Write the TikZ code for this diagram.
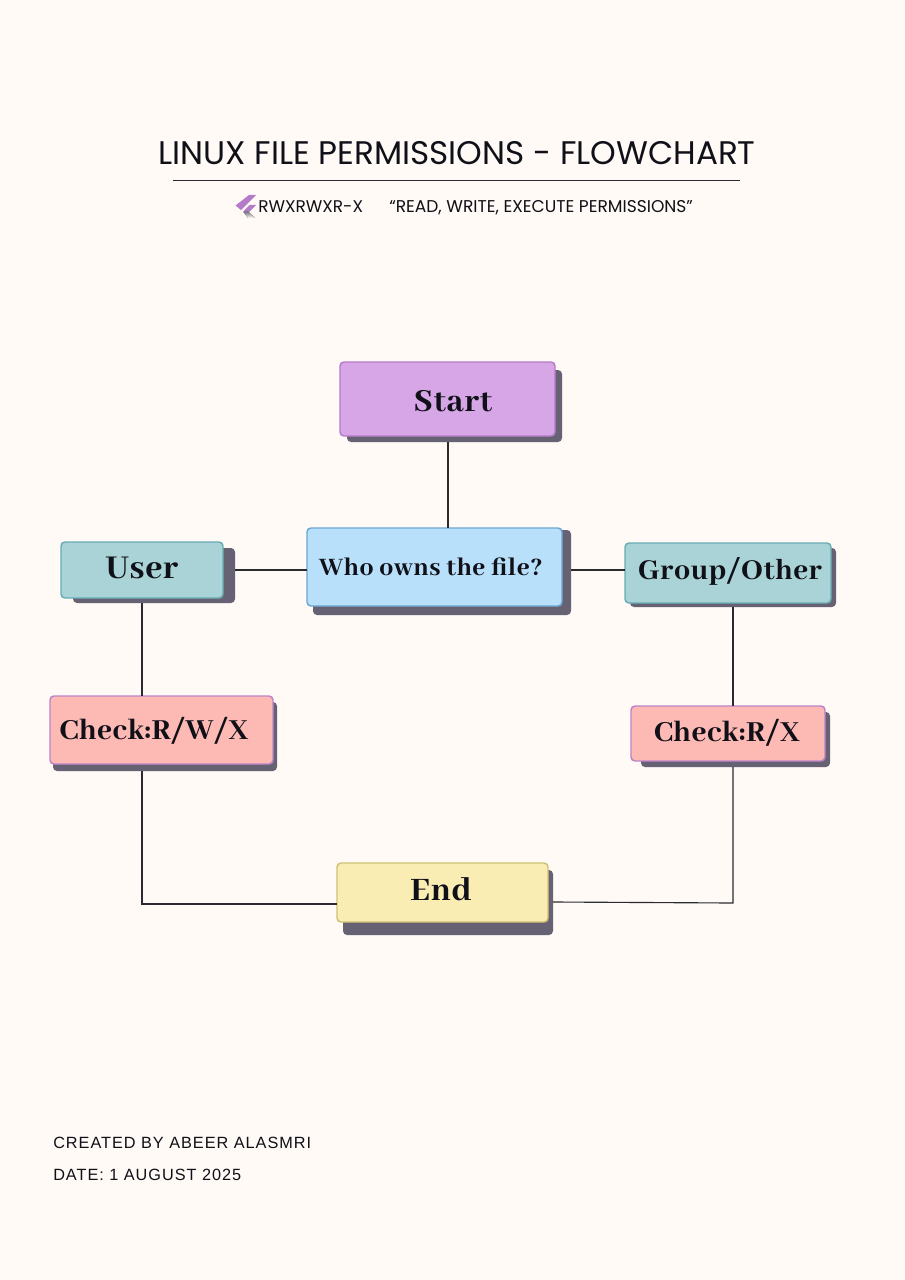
\documentclass[tikz,border=0pt]{standalone}
\usepackage{fontspec}
\setmainfont{Liberation Serif}
\newfontfamily\titlefont{Poppins}
\newfontfamily\footfont[LetterSpace=6]{Liberation Sans}
\newfontfamily\boxfont[LetterSpace=2]{Abhaya Libre ExtraBold}
\definecolor{paper}{HTML}{FFFAF6}
\definecolor{shade}{HTML}{666274}
\definecolor{ink}{HTML}{101018}
\definecolor{linec}{HTML}{2A2A30}
\definecolor{D7A6E6}{HTML}{D7A6E6}\definecolor{BC82CC}{HTML}{B47CC8}
\definecolor{B9E0FA}{HTML}{B9E0FA}\definecolor{72ADD6}{HTML}{6CA8D4}
\definecolor{A9D3D6}{HTML}{A9D3D6}\definecolor{6FB0B8}{HTML}{68ACB4}
\definecolor{FDB9B4}{HTML}{FDB9B4}\definecolor{C48AC8}{HTML}{BC84C8}
\definecolor{FAEDB4}{HTML}{FAEDB4}\definecolor{D4C878}{HTML}{CFC272}
\tikzset{
  wh/.style 2 args={minimum width=#1*0.75pt,minimum height=#2*0.75pt},
  panel/.style={rectangle,rounded corners=3pt,inner sep=0pt,outer sep=0pt,line width=1.1pt},
  shadowbox/.style={panel,fill=shade,draw=none},
  startbox/.style={panel,fill=D7A6E6,draw=BC82CC},
  whobox/.style={panel,fill=B9E0FA,draw=72ADD6},
  tealbox/.style={panel,fill=A9D3D6,draw=6FB0B8},
  pinkbox/.style={panel,fill=FDB9B4,draw=C48AC8},
  endbox/.style={panel,fill=FAEDB4,draw=D4C878},
  lab/.style={anchor=base,inner sep=0pt,text=ink,font=\boxfont},
  conn/.style={draw=linec,line width=0.85pt},
}
\begin{document}
\begin{tikzpicture}[x=0.75pt,y=-0.75pt]
\fill[paper] (0,0) rectangle (905,1280);
\useasboundingbox (0,0) rectangle (905,1280);
% title
\node[inner sep=0pt,anchor=base,font=\titlefont\fontsize{24.5}{26}\selectfont,text=ink] (title) at (457,165) {LINUX FILE PERMISSIONS - FLOWCHART};
\coordinate (ruleL) at (173,180.5);
\coordinate (ruleR) at (740,180.5);
\draw[conn] (ruleL) -- (ruleR);
% logo
\fill[BC82CC] (249,195) -- (256,195) -- (241,210) -- (235.5,205.5) -- cycle;
\fill[BC82CC] (249.5,205) -- (256,205) -- (248.5,212.5) -- (243,211.5) -- cycle;
\fill[shade] (243.5,212) -- (248.5,212) -- (255,218) -- (248,218) -- cycle;
\node[inner sep=0pt,anchor=base west,font=\titlefont\fontsize{12.7}{14}\selectfont,text=ink] (perm) at (258,213) {RWXRWXR-X};
\node[inner sep=0pt,anchor=base west,font=\titlefont\fontsize{12.8}{14}\selectfont,text=ink] (quote) at (389,213) {“READ, WRITE, EXECUTE PERMISSIONS”};
% shadows
\node[shadowbox,wh={215}{72}] (startS) at (454.5,406) {};
\node[shadowbox,wh={258}{85}] (whoS) at (442,572.5) {};
\node[shadowbox,wh={162}{55}] (userS) at (154,575.5) {};
\node[shadowbox,wh={224}{69}] (rwxS) at (165,736.5) {};
\node[shadowbox,wh={206}{59}] (groupS) at (733,577.5) {};
\node[shadowbox,wh={189}{55}] (rxS) at (735.5,739.5) {};
\node[shadowbox,wh={210}{65}] (endS) at (448,902.5) {};
% panels
\node[startbox,wh={215}{74}] (start) at (447.5,399) {};
\node[whobox,wh={255}{78}] (who) at (434.5,567) {};
\node[tealbox,wh={162}{56}] (user) at (142,570) {};
\node[pinkbox,wh={223}{68}] (rwx) at (161.5,730) {};
\node[tealbox,wh={206}{60}] (group) at (728,573) {};
\node[pinkbox,wh={194}{55}] (rx) at (728,733.5) {};
\node[endbox,wh={211}{59}] (end) at (442.5,892.5) {};
% labels
\node[lab,font=\boxfont\fontsize{26.5}{28}\selectfont] (startT) at (453,411) {Start};
\node[lab,font=\boxfont\fontsize{20.7}{22}\selectfont] (whoT) at (431,575) {Who owns the file?};
\node[lab,font=\boxfont\fontsize{27.5}{29}\selectfont] (userT) at (142,578) {User};
\node[lab,font=\boxfont\fontsize{24}{25}\selectfont] (rwxT) at (154,739) {Check:R/W/X};
\node[lab,font=\boxfont\fontsize{23.8}{25}\selectfont] (groupT) at (730,579) {Group/Other};
\node[lab,font=\boxfont\fontsize{24}{26}\selectfont] (rxT) at (727,741) {Check:R/X};
\node[lab,font=\boxfont\fontsize{27}{29}\selectfont] (endT) at (441,900.5) {End};
% connectors
\coordinate (startOut) at (448,442);
\draw[conn] (startOut) -- (startOut |- who.north);
\coordinate (midY) at (0,570);
\draw[conn] (userS.east |- midY) -- (who.west |- midY);
\draw[conn] (whoS.east |- midY) -- (group.west |- midY);
\draw[conn] (user.south |- userS.south) -- (user.south |- rwx.north);
\coordinate (rightX) at (733,0);
\draw[conn] (rightX |- groupS.south) -- (rightX |- rx.north);
\coordinate (endLY) at (0,904);
\coordinate (endRY) at (0,903);
\coordinate (endRS) at (0,902);
\draw[conn] (user.south |- rwxS.south) -- (user.south |- endLY) -- (end.west |- endLY);
\draw[conn] (rightX |- rxS.south) -- (rightX |- endRY) -- (endS.east |- endRS);
% footer
\node[inner sep=0pt,anchor=base west,font=\footfont\fontsize{12.2}{14}\selectfont,text=ink] (credit) at (53,1148) {CREATED BY ABEER ALASMRI};
\node[inner sep=0pt,anchor=base west,font=\footfont\fontsize{12.2}{14}\selectfont,text=ink] (date) at (53,1180) {DATE: 1 AUGUST 2025};
\end{tikzpicture}
\end{document}
